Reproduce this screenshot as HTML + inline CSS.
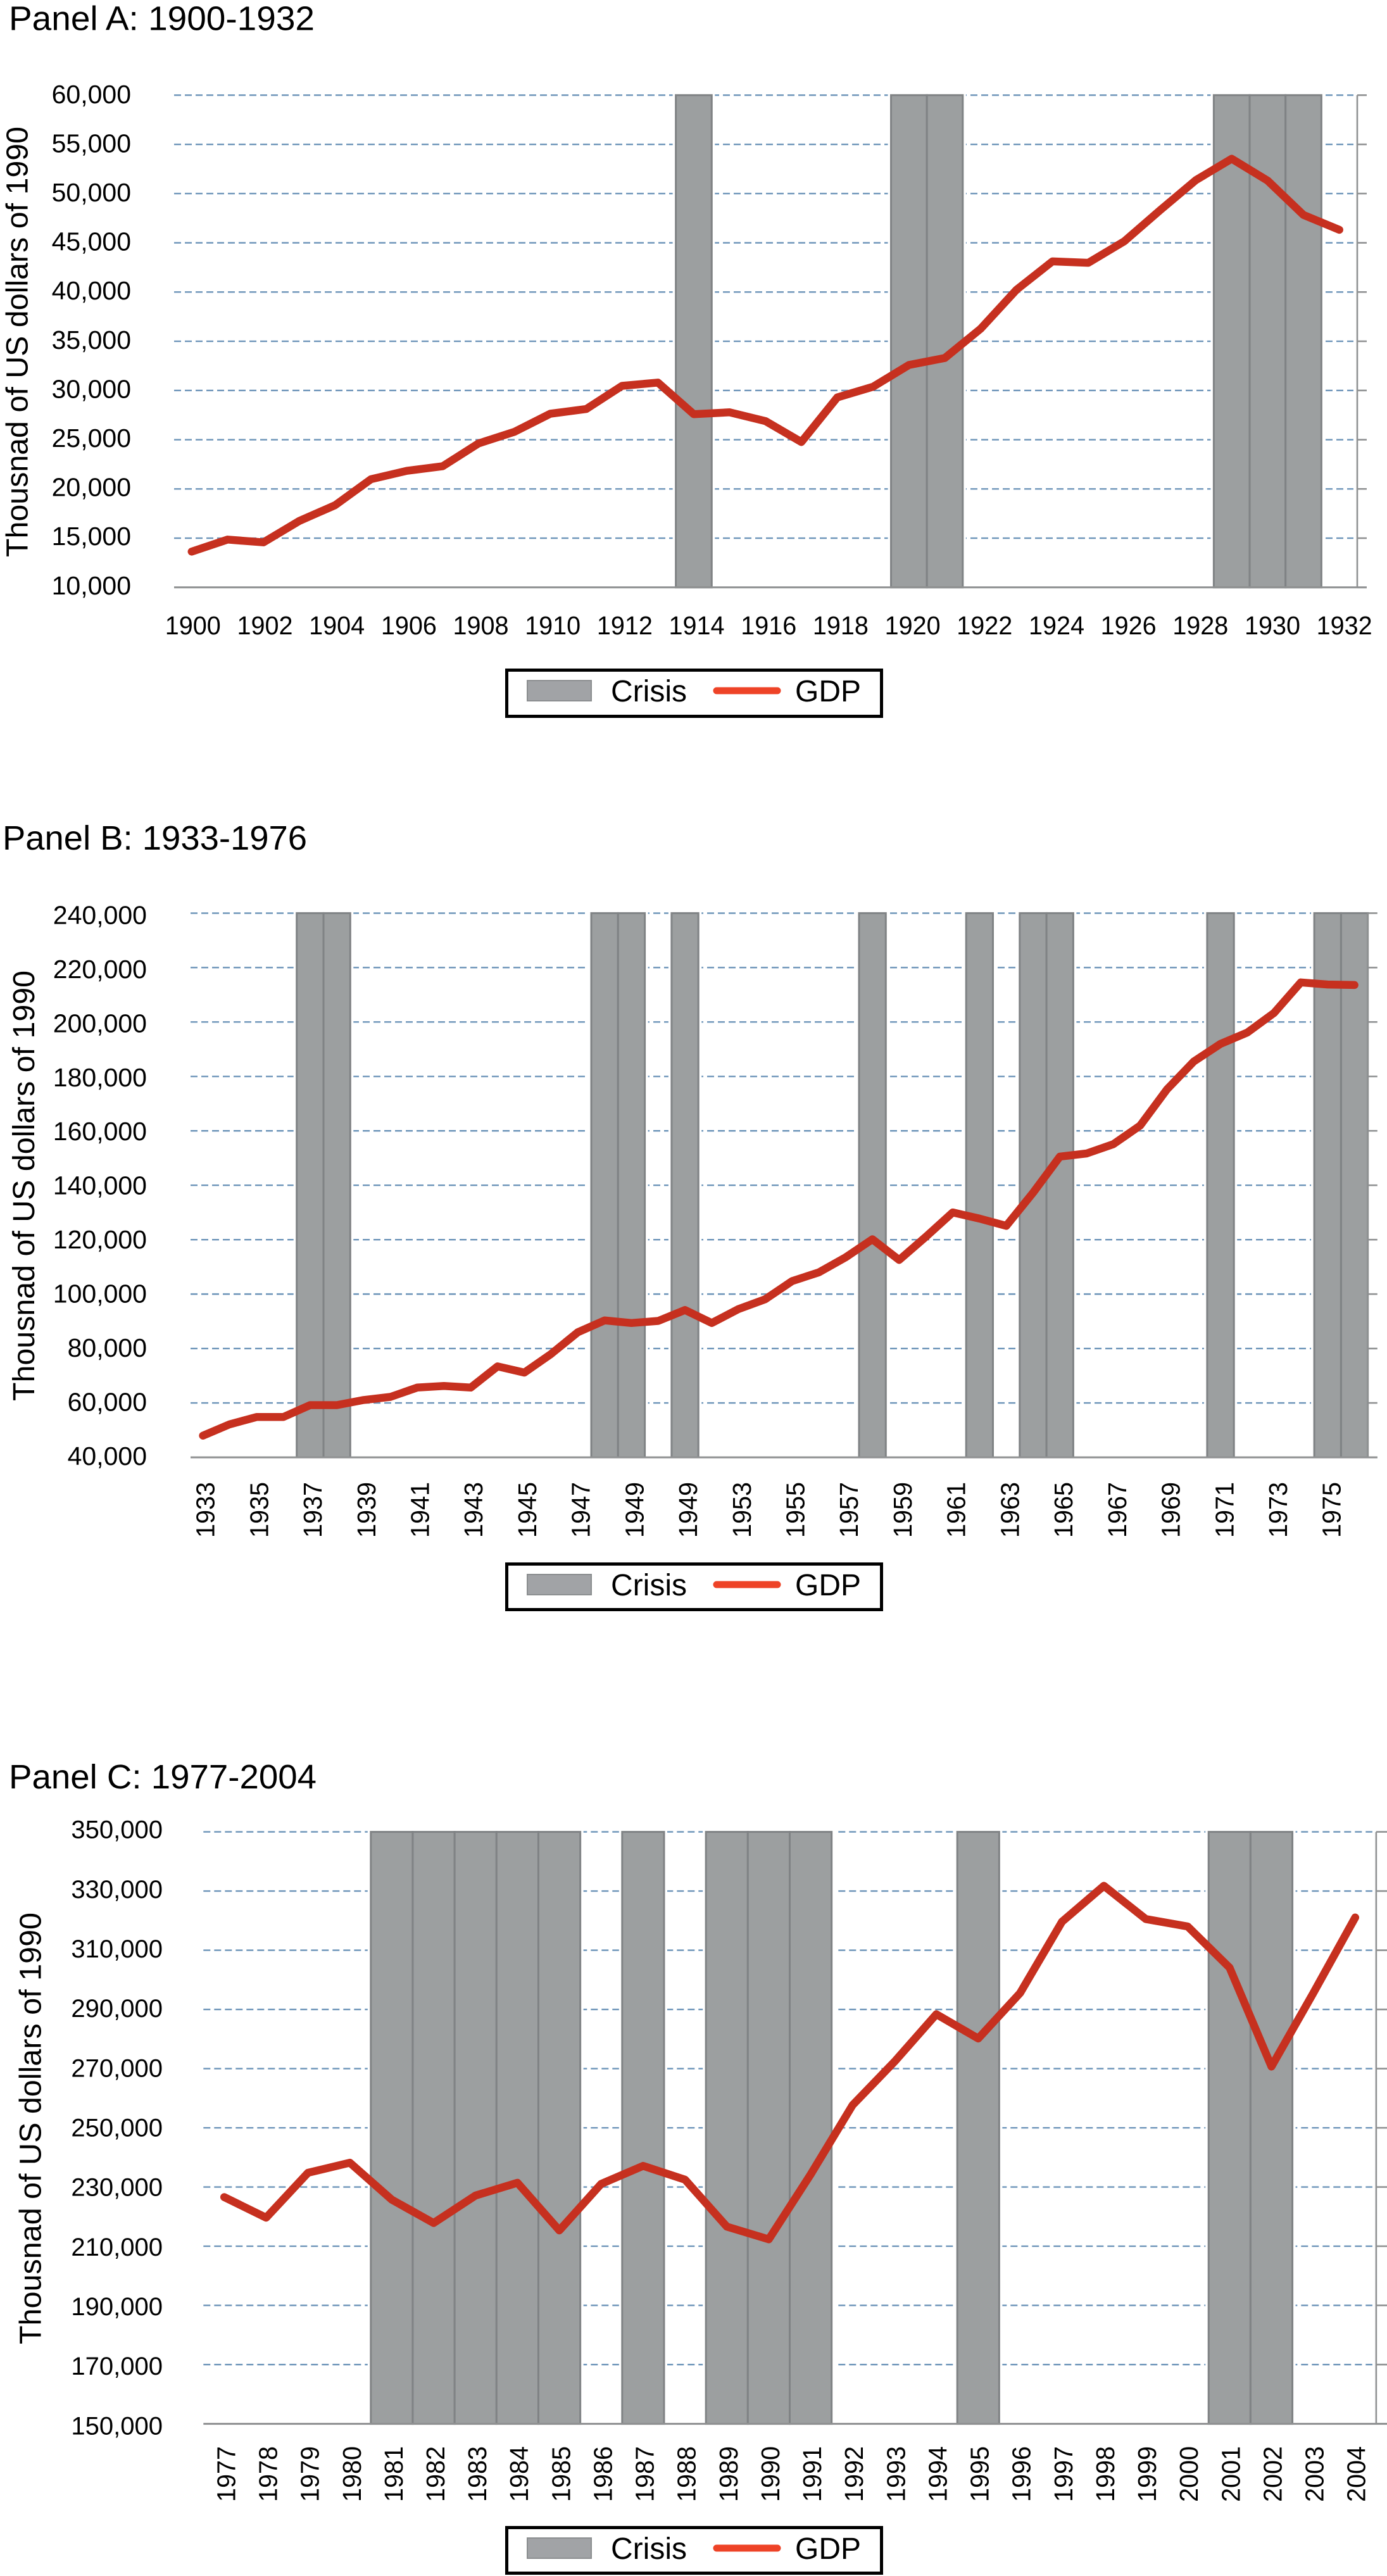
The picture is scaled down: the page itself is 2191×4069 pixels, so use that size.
<!DOCTYPE html>
<html lang="en">
<head>
<meta charset="utf-8">
<title>GDP and crisis years, 1900-2004</title>
<style>
html,body{margin:0;padding:0;background:#fff}
svg{display:block;font-family:"Liberation Sans",sans-serif;fill:#000}
</style>
</head>
<body>
<svg id="chart" xmlns="http://www.w3.org/2000/svg" width="2191" height="4069" viewBox="0 0 2191 4069">
  <rect x="0" y="0" width="2191" height="4069" fill="#fff"/>

  <text x="14" y="47.7" font-size="54" textLength="483" lengthAdjust="spacingAndGlyphs">Panel A: 1900-1932</text>
  <text x="4" y="1342" font-size="54" textLength="481" lengthAdjust="spacingAndGlyphs">Panel B: 1933-1976</text>
  <text x="14" y="2825" font-size="54" textLength="486" lengthAdjust="spacingAndGlyphs">Panel C: 1977-2004</text>

  <text transform="translate(43.5 880) rotate(-90)" font-size="48" textLength="680" lengthAdjust="spacingAndGlyphs">Thousnad of US dollars of 1990</text>
  <text transform="translate(54 2213) rotate(-90)" font-size="48" textLength="680" lengthAdjust="spacingAndGlyphs">Thousnad of US dollars of 1990</text>
  <text transform="translate(64.5 3703) rotate(-90)" font-size="48" textLength="682" lengthAdjust="spacingAndGlyphs">Thousnad of US dollars of 1990</text>

  <g transform="translate(798 1056)">
    <rect x="2.5" y="2.5" width="592" height="73" fill="#fff" stroke="#000" stroke-width="5"/>
    <rect x="35" y="19" width="101" height="32" fill="#a1a3a6" stroke="#8b8e90" stroke-width="2"/>
    <text x="167" y="52" font-size="48">Crisis</text>
    <line x1="334" y1="35" x2="430" y2="35" stroke="#ee4327" stroke-width="11" stroke-linecap="round"/>
    <text x="458" y="52" font-size="48">GDP</text>
  </g>
  <g transform="translate(798 2468)">
    <rect x="2.5" y="2.5" width="592" height="72" fill="#fff" stroke="#000" stroke-width="5"/>
    <rect x="35" y="19" width="101" height="32" fill="#a1a3a6" stroke="#8b8e90" stroke-width="2"/>
    <text x="167" y="52" font-size="48">Crisis</text>
    <line x1="334" y1="35" x2="430" y2="35" stroke="#ee4327" stroke-width="11" stroke-linecap="round"/>
    <text x="458" y="52" font-size="48">GDP</text>
  </g>
  <g transform="translate(798 3990)">
    <rect x="2.5" y="2.5" width="592" height="72" fill="#fff" stroke="#000" stroke-width="5"/>
    <rect x="35" y="19" width="101" height="32" fill="#a1a3a6" stroke="#8b8e90" stroke-width="2"/>
    <text x="167" y="52" font-size="48">Crisis</text>
    <line x1="334" y1="35" x2="430" y2="35" stroke="#ee4327" stroke-width="11" stroke-linecap="round"/>
    <text x="458" y="52" font-size="48">GDP</text>
  </g>
</svg>
<script>
const yearsA = [1900,1901,1902,1903,1904,1905,1906,1907,1908,1909,1910,1911,1912,1913,1914,1915,1916,1917,1918,1919,1920,1921,1922,1923,1924,1925,1926,1927,1928,1929,1930,1931,1932];
const gdpA = [13632,14858,14575,16745,18350,20991,21840,22311,24623,25802,27642,28113,30472,30802,27594,27783,26887,24764,29292,30377,32594,33302,36274,40236,43113,42972,45142,48302,51368,53538,51321,47830,46321];
const crisisA = [1914,1920,1921,1929,1930,1931];
const yTicksA = [10000,15000,20000,25000,30000,35000,40000,45000,50000,55000,60000];
const xLabelsA = ["1900","1902","1904","1906","1908","1910","1912","1914","1916","1918","1920","1922","1924","1926","1928","1930","1932"];

const yearsB = [1933,1934,1935,1936,1937,1938,1939,1940,1941,1942,1943,1944,1945,1946,1947,1948,1949,1950,1951,1952,1953,1954,1955,1956,1957,1958,1959,1960,1961,1962,1963,1964,1965,1966,1967,1968,1969,1970,1971,1972,1973,1974,1975,1976];
const gdpB = [47977,52156,54815,54815,59184,59184,61083,62222,65641,66211,65641,73428,71149,77987,85964,90332,89383,90142,94131,89383,94511,98120,104767,107996,113504,120152,112555,121102,130028,127749,125090,137246,150541,151681,155100,161937,175233,185489,191947,196125,203343,214549,213789,213600];
const crisisB = [1937,1938,1948,1949,1951,1958,1962,1964,1965,1971,1975,1976];
const yTicksB = [40000,60000,80000,100000,120000,140000,160000,180000,200000,220000,240000];
const xLabelsB = ["1933","1935","1937","1939","1941","1943","1945","1947","1949","1949","1953","1955","1957","1959","1961","1963","1965","1967","1969","1971","1973","1975"];

const yearsC = [1977,1978,1979,1980,1981,1982,1983,1984,1985,1986,1987,1988,1989,1990,1991,1992,1993,1994,1995,1996,1997,1998,1999,2000,2001,2002,2003,2004];
const gdpC = [226607,219643,234821,238214,225714,217857,227143,231429,215357,231071,237143,232500,216607,212321,234286,257679,272321,288393,280179,295536,319643,331786,320536,318036,304107,270714,295536,321071];
const crisisC = [1981,1982,1983,1984,1985,1987,1989,1990,1991,1995,2001,2002];
const yTicksC = [150000,170000,190000,210000,230000,250000,270000,290000,310000,330000,350000];
const xLabelsC = ["1977","1978","1979","1980","1981","1982","1983","1984","1985","1986","1987","1988","1989","1990","1991","1992","1993","1994","1995","1996","1997","1998","1999","2000","2001","2002","2003","2004"];

const SVG_NS = "http://www.w3.org/2000/svg";
const root = document.getElementById("chart");

function make(tag, parent) {
  const el = document.createElementNS(SVG_NS, tag);
  parent.appendChild(el);
  return el;
}

function drawPanel(id, years, gdp, crisis, yTicks, xLabels, g) {
  const panel = make("g", root);
  
  

  const catWidth = (g.right - g.left) / years.length;
  const yMin = yTicks[0];
  const yMax = yTicks[yTicks.length - 1];
  const xScale = function (year) { return g.left + (years.indexOf(year) + 0.5) * catWidth; };
  const yScale = function (v) { return g.bottom - (v - yMin) / (yMax - yMin) * (g.bottom - g.top); };

  yTicks.forEach(function (tick, i) {
    if (i === 0) return;
    const y = yScale(tick);
    const grid = make("line", panel);
    
    
    grid.setAttribute("x1", g.gridLeft);
    grid.setAttribute("x2", g.right - 6);
    grid.setAttribute("y1", y);
    grid.setAttribute("y2", y);
    grid.setAttribute("stroke", "#6b93b8");
    grid.setAttribute("stroke-width", "2.4");
    grid.setAttribute("stroke-dasharray", "11 6");
  });

  crisis.forEach(function (year) {
    const halo = make("rect", panel);
    
    
    halo.setAttribute("x", xScale(year) - catWidth / 2 - 5);
    halo.setAttribute("y", g.top - 3);
    halo.setAttribute("width", catWidth + 10);
    halo.setAttribute("height", g.bottom - g.top + 3);
    halo.setAttribute("fill", "#fff");
  });

  yTicks.forEach(function (tick) {
    const y = yScale(tick);
    const tickMark = make("line", panel);
    
    
    tickMark.setAttribute("x1", g.right);
    tickMark.setAttribute("x2", g.tickEnd);
    tickMark.setAttribute("y1", y);
    tickMark.setAttribute("y2", y);
    tickMark.setAttribute("stroke", "#8f9192");
    tickMark.setAttribute("stroke-width", "2.6");

    const frac = (tick - yMin) / (yMax - yMin);
    const label = make("text", panel);
    
    
    label.setAttribute("x", g.yLabelRight);
    label.setAttribute("y", y + g.labelDyBottom + (g.labelDyTop - g.labelDyBottom) * frac);
    label.setAttribute("text-anchor", "end");
    label.setAttribute("font-size", g.yFont);
    label.textContent = tick.toLocaleString("en-US");
  });

  crisis.forEach(function (year) {
    const band = make("rect", panel);
    
    
    band.setAttribute("x", xScale(year) - catWidth / 2);
    band.setAttribute("y", g.top);
    band.setAttribute("width", catWidth);
    band.setAttribute("height", g.bottom - g.top);
    band.setAttribute("fill", "#9c9fa0");
    band.setAttribute("stroke", "#808385");
    band.setAttribute("stroke-width", "3");
  });

  const baseline = make("line", panel);
  
  
  baseline.setAttribute("x1", g.gridLeft);
  baseline.setAttribute("x2", g.tickEnd);
  baseline.setAttribute("y1", g.bottom);
  baseline.setAttribute("y2", g.bottom);
  baseline.setAttribute("stroke", "#8f9192");
  baseline.setAttribute("stroke-width", "3");

  const rightAxis = make("line", panel);
  
  
  rightAxis.setAttribute("x1", g.right);
  rightAxis.setAttribute("x2", g.right);
  rightAxis.setAttribute("y1", g.top);
  rightAxis.setAttribute("y2", g.bottom);
  rightAxis.setAttribute("stroke", "#8f9192");
  rightAxis.setAttribute("stroke-width", "2.6");

  xLabels.forEach(function (text, i) {
    const cx = g.labelX0 + i * g.labelEvery * g.labelStep;
    const label = make("text", panel);
    
    
    label.setAttribute("font-size", "41");
    label.setAttribute("textLength", "88");
    label.setAttribute("lengthAdjust", "spacingAndGlyphs");
    if (g.rotated) {
      label.setAttribute("transform", "translate(" + (cx + 15) + " " + g.labelY + ") rotate(-90)");
    } else {
      label.setAttribute("x", cx - 44);
      label.setAttribute("y", g.labelY);
    }
    label.textContent = text;
  });

  const line = make("polyline", panel);
  
  
  line.setAttribute("points", years.map(function (year, i) {
    return xScale(year).toFixed(1) + "," + yScale(gdp[i]).toFixed(1);
  }).join(" "));
  line.setAttribute("fill", "none");
  line.setAttribute("stroke", "#c6301f");
  line.setAttribute("stroke-width", "12.5");
  line.setAttribute("stroke-linejoin", "round");
  line.setAttribute("stroke-linecap", "round");
}

drawPanel("a", yearsA, gdpA, crisisA, yTicksA, xLabelsA, {
  left: 274.5, right: 2144, gridLeft: 275, tickEnd: 2159, top: 150.3, bottom: 927.8,
  yLabelRight: 207, yFont: 41, labelDyTop: 12.5, labelDyBottom: 11,
  labelX0: 304.8, labelStep: 56.84, labelEvery: 2, labelY: 1001.8, rotated: false
});
drawPanel("b", yearsB, gdpB, crisisB, yTicksB, xLabelsB, {
  left: 299.5, right: 2160.7, gridLeft: 301, tickEnd: 2175.8, top: 1442.4, bottom: 2302,
  yLabelRight: 232, yFont: 41, labelDyTop: 17, labelDyBottom: 12,
  labelX0: 323.6, labelStep: 42.36, labelEvery: 2, labelY: 2429, rotated: true
});
drawPanel("c", yearsC, gdpC, crisisC, yTicksC, xLabelsC, {
  left: 321.1, right: 2173.9, gridLeft: 321.3, tickEnd: 2191, top: 2893.6, bottom: 3828.6,
  yLabelRight: 257, yFont: 40, labelDyTop: 10, labelDyBottom: 16.7,
  labelX0: 356.4, labelStep: 66.12, labelEvery: 1, labelY: 3952, rotated: true
});
</script>
</body>
</html>
